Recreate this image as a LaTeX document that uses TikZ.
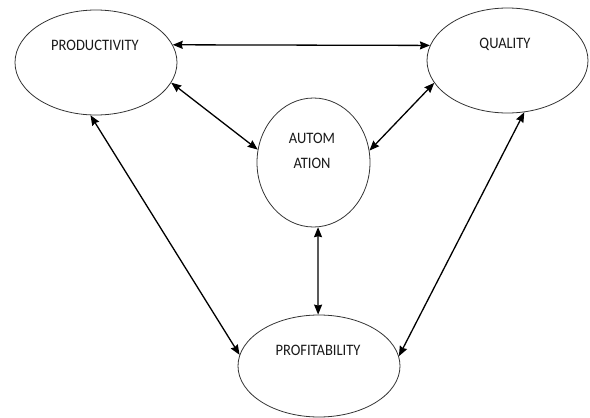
\documentclass[tikz,border=0pt]{standalone}
\usepackage{fontspec}
\setmainfont{Carlito}
\usetikzlibrary{shapes.geometric,arrows.meta}
\tikzset{
  oval/.style={draw=black!80, line width=0.8pt, ellipse, inner sep=0pt},
  lbl/.style={font=\fontsize{14.5}{17}\selectfont, text=black!90, inner sep=0pt, align=center, yscale=1.1},
  link/.style={line width=1.3pt, {Stealth[length=10pt,width=8pt,inset=1pt]}-{Stealth[length=10pt,width=8pt,inset=1pt]}}
}
\begin{document}
\begin{tikzpicture}[x=1pt,y=-1pt]
\useasboundingbox (0,0) rectangle (590,418);
\node[oval, minimum width=162pt, minimum height=105pt] (prod) at (96,62.5) {};
\node[oval, minimum width=161pt, minimum height=105pt] (qual) at (507.5,60.5) {};
\node[oval, minimum width=113pt, minimum height=129pt] (auto) at (313.5,162.5) {};
\node[oval, minimum width=162pt, minimum height=102pt] (prof) at (319,366) {};
\node[lbl] (prodt) at (95,45) {PRODUCTIVITY};
\node[lbl] (qualt) at (505,44) {QUALITY};
\node[lbl] (autot1) at (312,138) {AUTOM};
\node[lbl] (autot2) at (312,163) {ATION};
\node[lbl] (proft) at (318,350) {PROFITABILITY};
\draw[link] (prod.13) -- (qual.169.8);
\draw[link] (prod.-15) -- (auto.167.3);
\draw[link] (qual.-163.2) -- (auto.12.7);
\draw[link] (auto.-86.8) -- (prof.91);
\draw[link] (prod.-96.5) -- (prof.172.3);
\draw[link] (qual.-72.2) -- (prof.7.7);
\end{tikzpicture}
\end{document}
